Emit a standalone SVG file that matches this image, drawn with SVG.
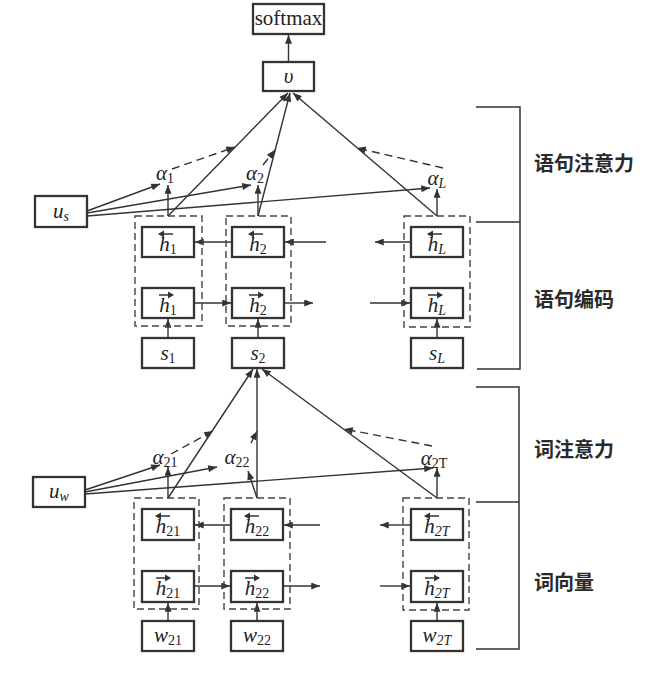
<svg xmlns="http://www.w3.org/2000/svg" xmlns:xlink="http://www.w3.org/1999/xlink" width="669" height="673" viewBox="0 0 669 673">
<style>
.box{fill:#fff;stroke:#333;stroke-width:2.3}
.dbox{fill:none;stroke:#444;stroke-width:1.4;stroke-dasharray:7 4}
.ln{stroke:#333;stroke-width:1.5;fill:none}
.ar{stroke:#333;stroke-width:1.4;fill:none;marker-end:url(#ah)}
.dl{stroke:#333;stroke-width:1.4;fill:none;stroke-dasharray:8 5;marker-end:url(#ah)}
.t{font-family:"Liberation Serif",serif;font-size:21px;fill:#222;text-anchor:middle}
.i{font-style:italic}
.s{font-size:14px;font-style:italic}
.sr{font-size:14px;font-style:normal}
.cn{font-family:"Noto Sans CJK SC",sans-serif;font-size:20px;font-weight:bold;fill:#2a2a2a}
</style>
<defs>
<marker id="ah" viewBox="0 0 10 8" refX="10" refY="4" markerWidth="10" markerHeight="7" markerUnits="userSpaceOnUse" orient="auto"><path d="M0,0 L10,4 L0,8 z" fill="#333"/></marker>
<g id="la"><path d="M-7,0 H7" stroke="#333" stroke-width="1.5"/><path d="M-8,0 L-2,-3.5 L-2,3.5 z" fill="#333"/></g>
<g id="ra"><path d="M-7,0 H7" stroke="#333" stroke-width="1.5"/><path d="M8,0 L2,-3.5 L2,3.5 z" fill="#333"/></g>
</defs>
<rect width="669" height="673" fill="#fff"/>

<g id="connectors">
<path class="ar" d="M288.5,62 V35"/>
<path class="ar" d="M168,216 L288,93"/>
<path class="ar" d="M258,216 L290,93"/>
<path class="ar" d="M437,216 L293,93"/>
<path class="ar" d="M168,216 V185"/>
<path class="ar" d="M258,216 V185"/>
<path class="ar" d="M437,216 V189"/>
<path class="dl" d="M172,169 L235,147"/>
<path class="dl" d="M263,165 L275,150"/>
<path class="dl" d="M443,168 L357,148"/>
<path class="ar" d="M87,211 L160,184"/>
<path class="ar" d="M87,213 L251,185"/>
<path class="ar" d="M87,216 L430,188"/>
<path class="ar" d="M411,242 H375"/>
<path class="ar" d="M326,242 H285"/>
<path class="ar" d="M232,242 H195"/>
<path class="ar" d="M194,303 H231"/>
<path class="ar" d="M284,303 H313"/>
<path class="ar" d="M370,303 H410"/>
<path class="ar" d="M168,338 V319"/>
<path class="ar" d="M258,338 V319"/>
<path class="ar" d="M437,338 V319"/>
<path class="ar" d="M168,498 L253,369"/>
<path class="ar" d="M257,498 V369"/>
<path class="ar" d="M437,498 L262,369"/>
<path class="ar" d="M168,498 V467"/>
<path class="ar" d="M257,498 L248,471"/>
<path class="ar" d="M437,498 V468"/>
<path class="dl" d="M171,454 L213,431"/>
<path class="dl" d="M251,443 L257,431"/>
<path class="dl" d="M432,446 L344,429"/>
<path class="ar" d="M85,490 L160,465"/>
<path class="ar" d="M85,492 L217,467"/>
<path class="ar" d="M85,494 L433,468"/>
<path class="ar" d="M411,525 H380"/>
<path class="ar" d="M320,525 H284"/>
<path class="ar" d="M231,525 H195"/>
<path class="ar" d="M194,586 H230"/>
<path class="ar" d="M283,586 H320"/>
<path class="ar" d="M380,586 H410"/>
<path class="ar" d="M168,621 V603"/>
<path class="ar" d="M257,621 V603"/>
<path class="ar" d="M437,621 V603"/>
</g>

<g id="brackets">
<path class="ln" d="M476,107 H520 V369 H477 M476,222 H520"/>
<path class="ln" d="M476,387 H519 V649 H476 M476,502 H519"/>
</g>

<g id="softmax"><rect class="box" x="253" y="4" width="71" height="30"/><text class="t" x="288.5" y="25">softmax</text></g>
<g id="v"><rect class="box" x="263" y="62" width="51" height="29"/><text class="t i" x="288.5" y="83">υ</text></g>

<g id="us"><rect class="box" x="35" y="196" width="52" height="31"/><text class="t i" x="61" y="218" font-size="23">u<tspan class="s" dy="3">s</tspan></text></g>
<g id="uw"><rect class="box" x="33" y="477" width="52" height="30"/><text class="t i" x="59" y="498" font-size="23">u<tspan class="s" dy="3">w</tspan></text></g>

<g id="alpha1"><text class="t i" x="165" y="180" font-size="22">α<tspan class="sr" dy="3">1</tspan></text></g>
<g id="alpha2"><text class="t i" x="255" y="180" font-size="22">α<tspan class="sr" dy="3">2</tspan></text></g>
<g id="alphaL"><text class="t i" x="437" y="185" font-size="22">α<tspan class="s" dy="3">L</tspan></text></g>
<g id="alpha21"><text class="t i" x="165" y="464" font-size="22">α<tspan class="sr" dy="3">21</tspan></text></g>
<g id="alpha22"><text class="t i" x="237" y="464" font-size="22">α<tspan class="sr" dy="3">22</tspan></text></g>
<g id="alpha2T"><text class="t i" x="434" y="465" font-size="22">α<tspan class="sr" dy="3">2T</tspan></text></g>

<g id="sent1">
<rect class="dbox" x="135" y="216" width="67" height="110"/>
<rect class="box" x="142" y="227" width="52" height="30"/><use xlink:href="#la" x="166" y="234"/><text class="t i" x="168" y="251" font-size="23">h<tspan class="sr" dy="3">1</tspan></text>
<rect class="box" x="142" y="288" width="52" height="30"/><use xlink:href="#ra" x="166" y="295"/><text class="t i" x="168" y="312" font-size="23">h<tspan class="sr" dy="3">1</tspan></text>
</g>
<g id="s1"><rect class="box" x="142" y="338" width="52" height="30"/><text class="t i" x="168" y="360" font-size="23">s<tspan class="sr" dy="3">1</tspan></text></g>

<g id="sent2">
<rect class="dbox" x="226" y="216" width="65" height="110"/>
<rect class="box" x="232" y="227" width="52" height="30"/><use xlink:href="#la" x="256" y="234"/><text class="t i" x="258" y="251" font-size="23">h<tspan class="sr" dy="3">2</tspan></text>
<rect class="box" x="232" y="288" width="52" height="30"/><use xlink:href="#ra" x="256" y="295"/><text class="t i" x="258" y="312" font-size="23">h<tspan class="sr" dy="3">2</tspan></text>
</g>
<g id="s2"><rect class="box" x="232" y="338" width="52" height="30"/><text class="t i" x="258" y="360" font-size="23">s<tspan class="sr" dy="3">2</tspan></text></g>

<g id="sentL">
<rect class="dbox" x="404" y="216" width="66" height="111"/>
<rect class="box" x="411" y="227" width="52" height="30"/><use xlink:href="#la" x="435" y="234"/><text class="t i" x="437" y="251" font-size="23">h<tspan class="s" dy="3">L</tspan></text>
<rect class="box" x="411" y="288" width="52" height="30"/><use xlink:href="#ra" x="435" y="295"/><text class="t i" x="437" y="312" font-size="23">h<tspan class="s" dy="3">L</tspan></text>
</g>
<g id="sL"><rect class="box" x="411" y="338" width="52" height="30"/><text class="t i" x="437" y="360" font-size="23">s<tspan class="s" dy="3">L</tspan></text></g>

<g id="word21">
<rect class="dbox" x="134" y="498" width="65" height="111"/>
<rect class="box" x="142" y="509" width="52" height="31"/><use xlink:href="#la" x="163" y="516"/><text class="t i" x="168" y="533" font-size="23">h<tspan class="sr" dy="3">21</tspan></text>
<rect class="box" x="142" y="571" width="52" height="31"/><use xlink:href="#ra" x="163" y="578"/><text class="t i" x="168" y="595" font-size="23">h<tspan class="sr" dy="3">21</tspan></text>
</g>
<g id="w21"><rect class="box" x="142" y="621" width="52" height="30"/><text class="t i" x="168" y="642" font-size="23">w<tspan class="sr" dy="3">21</tspan></text></g>

<g id="word22">
<rect class="dbox" x="224" y="498" width="66" height="111"/>
<rect class="box" x="231" y="509" width="52" height="31"/><use xlink:href="#la" x="252" y="516"/><text class="t i" x="257" y="533" font-size="23">h<tspan class="sr" dy="3">22</tspan></text>
<rect class="box" x="231" y="571" width="52" height="31"/><use xlink:href="#ra" x="252" y="578"/><text class="t i" x="257" y="595" font-size="23">h<tspan class="sr" dy="3">22</tspan></text>
</g>
<g id="w22"><rect class="box" x="231" y="621" width="52" height="30"/><text class="t i" x="257" y="642" font-size="23">w<tspan class="sr" dy="3">22</tspan></text></g>

<g id="word2T">
<rect class="dbox" x="403" y="498" width="66" height="112"/>
<rect class="box" x="411" y="509" width="52" height="31"/><use xlink:href="#la" x="432" y="516"/><text class="t i" x="437" y="533" font-size="23">h<tspan class="s" dy="3">2T</tspan></text>
<rect class="box" x="411" y="571" width="52" height="31"/><use xlink:href="#ra" x="432" y="578"/><text class="t i" x="437" y="595" font-size="23">h<tspan class="s" dy="3">2T</tspan></text>
</g>
<g id="w2T"><rect class="box" x="411" y="621" width="52" height="30"/><text class="t i" x="437" y="642" font-size="23">w<tspan class="s" dy="3">2T</tspan></text></g>

<g id="labels">
<text class="cn" x="534" y="171">语句注意力</text>
<text class="cn" x="534" y="307">语句编码</text>
<text class="cn" x="534" y="457">词注意力</text>
<text class="cn" x="534" y="590">词向量</text>
</g>
</svg>
